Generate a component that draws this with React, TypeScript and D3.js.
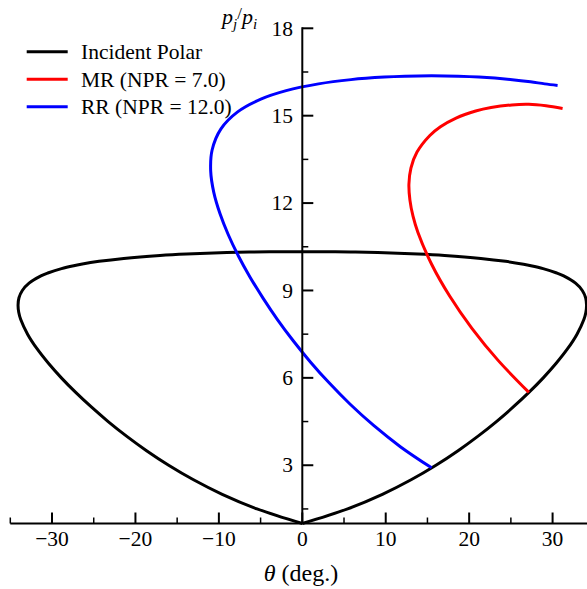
import React from "react";
import * as d3 from "d3";

// incident shock polar (theta in deg, p/p_i)
const incidentTheta = [
  0, 5.43, 9.6, 13.04, 16.02, 18.67, 21.07, 23.27, 25.29, 27.16, 28.88, 30.43, 31.8, 32.93, 33.75, 33.99, 34.07, 33.96,
  33.56, 32.75, 31.33, 30.5, 28.86, 27.4, 26.52, 24.36, 21.4, 17.06, 13.87, 9.04, 5.79, 2.91, 0,
  -2.91, -5.79, -9.04, -13.87, -17.06, -21.4, -24.36, -26.52, -27.4, -28.86, -30.5, -31.33, -32.75, -33.56,
  -33.96, -34.07, -33.99, -33.75, -32.93, -31.8, -30.43, -28.88, -27.16, -25.29, -23.27, -21.07, -18.67, -16.02,
  -13.04, -9.6, -5.43, 0,
];
const incidentP = [
  1, 1.5, 2, 2.5, 3, 3.5, 4, 4.5, 5, 5.5, 6, 6.5, 7, 7.5, 8, 8.25, 8.5, 8.75,
  9, 9.25, 9.5, 9.6, 9.75, 9.85, 9.9, 10, 10.1, 10.2, 10.25, 10.3, 10.32, 10.33, 10.333,
  10.33, 10.32, 10.3, 10.25, 10.2, 10.1, 10, 9.9, 9.85, 9.75, 9.6, 9.5, 9.25, 9,
  8.75, 8.5, 8.25, 8, 7.5, 7, 6.5, 6, 5.5, 5, 4.5, 4, 3.5, 3,
  2.5, 2, 1.5, 1,
];

// reflected polar, Mach reflection case
const mrTheta = [27.16, 23.47, 20.33, 17.68, 15.5, 13.85, 13.27, 12.9, 12.78, 13.02, 13.75, 15.29, 16.56, 18.43, 20.78, 22.63, 25.11, 27.16, 29.21, 31.2];
const mrP = [5.5, 6.6, 7.7, 8.8, 9.9, 11.0, 11.55, 12.1, 12.65, 13.2, 13.75, 14.32, 14.62, 14.92, 15.16, 15.28, 15.37, 15.39, 15.34, 15.25];

// reflected polar, regular reflection case
const rrTheta = [
  15.5, 11.75, 8.55, 5.74, 3.24, 0.97, -1.09, -2.98, -4.69, -6.26, -7.66, -8.87, -9.87, -10.61, -10.98, -10.81, -9.75,
  -7.75, -4.97, -1.93, 1.94, 5.84, 9.84, 12.3, 15.5, 18.7, 21.16, 25.16, 27.35, 29.06, 30.6,
];
const rrP = [
  2.91, 3.6375, 4.365, 5.0925, 5.82, 6.5475, 7.275, 8.0025, 8.73, 9.4575, 10.185, 10.9125, 11.64, 12.3675, 13.095, 13.8225, 14.55,
  15.132, 15.5685, 15.8595, 16.0923, 16.2378, 16.325, 16.354, 16.3676, 16.354, 16.325, 16.2378, 16.165, 16.0923, 16.04,
];

const xMajor = [-30, -20, -10, 0, 10, 20, 30];
const xMinor = [-35, -25, -15, -5, 5, 15, 25, 35];
const yMajor = [3, 6, 9, 12, 15, 18];
const yMinor = [1.5, 4.5, 7.5, 10.5, 13.5, 16.5];

const legendItems = [
  { label: "Incident Polar", color: "#000000" },
  { label: "MR (NPR = 7.0)", color: "#ff0000" },
  { label: "RR (NPR = 12.0)", color: "#0000ff" },
];

const W = 587;
const H = 589;
const font = "'Liberation Serif', 'Times New Roman', serif";

export default function App() {
  const x = d3.scaleLinear().domain([-35, 35]).range([10.3, 594.3]);
  const y = d3.scaleLinear().domain([1, 18]).range([523.5, 28.3]);

  const line = d3
    .line<[number, number]>()
    .x((d) => x(d[0]))
    .y((d) => y(d[1]))
    .curve(d3.curveCatmullRom.alpha(0.5));

  const zip = (a: number[], b: number[]) => a.map((v, i) => [v, b[i]] as [number, number]);

  const series = [
    { pts: zip(incidentTheta, incidentP), color: "#000000" },
    { pts: zip(mrTheta, mrP), color: "#ff0000" },
    { pts: zip(rrTheta, rrP), color: "#0000ff" },
  ];

  const x0 = x(0);
  const yBase = y(1);

  return (
    <svg width={W} height={H} style={{ position: "absolute", left: 0, top: 0 }} fontFamily={font}>
      <rect width={W} height={H} fill="#fff" />

      {/* curves */}
      {series.map((s, i) => (
        <path key={i} d={line(s.pts) || undefined} fill="none" stroke={s.color} strokeWidth={3} strokeLinejoin="round" />
      ))}

      {/* x axis */}
      <line x1={x(-35)} x2={W} y1={yBase} y2={yBase} stroke="#000" strokeWidth={2} />
      {xMajor.map((t) => (
        <g key={"xM" + t}>
          <line x1={x(t)} x2={x(t)} y1={yBase} y2={yBase - 11} stroke="#000" strokeWidth={2} />
          <text x={x(t)} y={546} fontSize={21.5} textAnchor="middle">
            {t < 0 ? "\u2212" + Math.abs(t) : t}
          </text>
        </g>
      ))}
      {xMinor.map((t) => (
        <line key={"xm" + t} x1={x(t)} x2={x(t)} y1={yBase} y2={yBase - 6} stroke="#000" strokeWidth={1.5} />
      ))}

      {/* y axis */}
      <line x1={x0} x2={x0} y1={y(18) - 1} y2={yBase} stroke="#000" strokeWidth={2} />
      {yMajor.map((t) => (
        <g key={"yM" + t}>
          <line x1={x0} x2={x0 + 11} y1={y(t)} y2={y(t)} stroke="#000" strokeWidth={2} />
          <text x={293} y={y(t) + 7.2} fontSize={21.5} textAnchor="end">
            {t}
          </text>
        </g>
      ))}
      {yMinor.map((t) => (
        <line key={"ym" + t} x1={x0} x2={x0 + 6} y1={y(t)} y2={y(t)} stroke="#000" strokeWidth={1.5} />
      ))}

      {/* axis titles */}
      <text x={222} y={24} fontSize={22}>
        <tspan fontStyle="italic">p</tspan>
        <tspan fontStyle="italic" fontSize={15} dy={5}>j</tspan>
        <tspan fontSize={17} dy={-10}>/</tspan>
        <tspan fontStyle="italic" dy={5}>p</tspan>
        <tspan fontStyle="italic" fontSize={15} dy={5}>i</tspan>
      </text>
      <text x={301} y={581} fontSize={24} textAnchor="middle">
        <tspan fontStyle="italic">θ</tspan> (deg.)
      </text>

      {/* legend */}
      {legendItems.map((it, i) => {
        const ly = 51.7 + i * 27.5;
        return (
          <g key={it.label}>
            <line x1={26.7} x2={67.7} y1={ly} y2={ly} stroke={it.color} strokeWidth={3} />
            <text x={81} y={ly + 7.5} fontSize={21.5}>
              {it.label}
            </text>
          </g>
        );
      })}
    </svg>
  );
}
